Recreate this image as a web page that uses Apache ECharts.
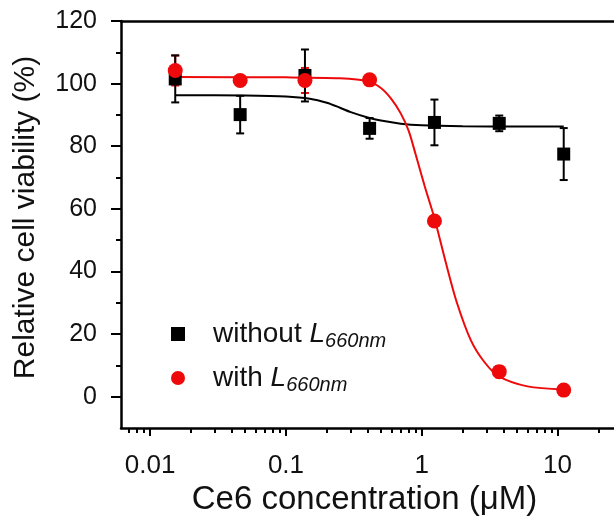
<!DOCTYPE html>
<html>
<head>
<meta charset="utf-8">
<script src="https://cdn.jsdelivr.net/npm/echarts@6/dist/echarts.min.js"></script>
<style>
  html, body { margin: 0; padding: 0; background: #fff; }
  #chartBox { width: 614px; height: 525px; }
</style>
</head>
<body>
<div id="chartBox"></div>
<script>
// concentrations (uM), threefold dilution
const conc = [0.0153, 0.046, 0.138, 0.413, 1.24, 3.72, 11.1];
// without laser
const withoutVals = [101.5, 90.1, 102.6, 85.7, 87.6, 87.3, 77.5];
const withoutErr = [7.5, 6.0, 8.3, 3.3, 7.3, 2.5, 8.3];
// with laser
const withVals = [104.2, 101.0, 101.0, 101.2, 56.1, 8.0, 2.1];
const withErr = [4.8, 0, 4.0, 0, 0, 1.8, 0];
// fitted curves
const withoutFitX = [0.0153, 0.05, 0.1, 0.15, 0.2, 0.25, 0.3, 0.4, 0.5, 0.7, 1, 2, 5, 11.1];
const withoutFitY = [96.3, 96.2, 95.9, 95.2, 93.9, 92.3, 90.9, 89.2, 88.2, 87.2, 86.7, 86.4, 86.3, 86.3];
const withFitX = [0.0153, 0.1, 0.25, 0.4, 0.5, 0.6, 0.7, 0.8, 0.9, 1.05, 1.24, 1.5, 1.8, 2.3, 2.9, 3.7, 6, 11.1];
const withFitY = [102.1, 102.0, 101.7, 100.8, 98.6, 95.0, 90.5, 85.0, 77.5, 67.3, 57.0, 43.0, 30.5, 18.0, 11.0, 6.5, 3.3, 2.3];
// tick labels
const xMajor = [0.01, 0.1, 1, 10];
const xMinor = [0.007, 0.008, 0.009, 0.02, 0.03, 0.04, 0.05, 0.06, 0.07, 0.08, 0.09,
  0.2, 0.3, 0.4, 0.5, 0.6, 0.7, 0.8, 0.9, 2, 3, 4, 5, 6, 7, 8, 9, 20, 30, 40];
const yMajor = [0, 20, 40, 60, 80, 100, 120];
const yMinor = [10, 30, 50, 70, 90, 110];

const RED = '#ee0a0a';
const FONT = '"Liberation Sans", Arial, sans-serif';

const zip = (xs, ys) => xs.map((x, i) => [x, ys[i]]);
const errData = (vals, errs) =>
  conc.map((x, i) => [x, vals[i] - errs[i], vals[i] + errs[i], errs[i]]);

function errorBars(color) {
  return function (params, api) {
    if (api.value(3) <= 0) return null;
    const x = api.value(0);
    const lo = api.coord([x, api.value(1)]);
    const hi = api.coord([x, api.value(2)]);
    const w = 4;
    const style = { stroke: color, lineWidth: 2 };
    return {
      type: 'group',
      children: [
        { type: 'line', shape: { x1: lo[0], y1: lo[1], x2: hi[0], y2: hi[1] }, style },
        { type: 'line', shape: { x1: lo[0] - w, y1: lo[1], x2: lo[0] + w, y2: lo[1] }, style },
        { type: 'line', shape: { x1: hi[0] - w, y1: hi[1], x2: hi[0] + w, y2: hi[1] }, style }
      ]
    };
  };
}

const chart = echarts.init(document.getElementById('chartBox'));
const xCommon = { type: 'log', logBase: 10, min: 0.0061, max: 43.3, splitLine: { show: false } };
const yCommon = { type: 'value', min: -10, max: 120, splitLine: { show: false } };

chart.setOption({
  animation: false,
  grid: { left: 121, right: -30, top: 21, bottom: 97, containLabel: false, outerBoundsMode: 'none' },
  legend: {
    orient: 'vertical',
    left: 171,
    top: 317,
    padding: 0,
    itemWidth: 14,
    itemHeight: 14,
    itemGap: 10,
    data: [
      { name: 'without L660nm', icon: 'rect' },
      { name: 'with L660nm', icon: 'circle' }
    ],
    formatter: function (name) {
      const head = name.indexOf('without') === 0 ? 'without ' : 'with ';
      return '{s|}{a|' + head + '}{i|L}{sub|660nm}';
    },
    textStyle: {
      rich: {
        s: { width: 23 },
        a: { fontSize: 28, fontFamily: FONT, color: '#111', lineHeight: 30 },
        i: { fontSize: 28, fontFamily: FONT, fontStyle: 'italic', color: '#111', lineHeight: 30 },
        sub: { fontSize: 20, fontFamily: FONT, fontStyle: 'italic', color: '#111', lineHeight: 30, padding: [14, 0, 0, 0] }
      }
    }
  },
  xAxis: [
    Object.assign({}, xCommon, {
      position: 'bottom',
      name: 'Ce6 concentration (\u03bcM)',
      nameLocation: 'middle',
      nameGap: 52,
      nameTextStyle: { fontSize: 33, fontFamily: FONT, color: '#111', padding: [0, 36, 0, 0] },
      axisLine: { onZero: false, lineStyle: { color: '#000', width: 2.5 } },
      axisTick: { inside: false, length: 8, lineStyle: { color: '#000', width: 2 }, customValues: xMajor },
      axisLabel: { margin: 25, fontSize: 26, fontFamily: FONT, color: '#111', customValues: xMajor,
        formatter: v => String(+v.toPrecision(3)) }
    }),
    Object.assign({}, xCommon, {
      position: 'bottom',
      axisLine: { show: false, onZero: false },
      axisTick: { inside: false, length: 5, lineStyle: { color: '#000', width: 2 }, customValues: xMinor },
      axisLabel: { show: false }
    }),
    Object.assign({}, xCommon, {
      position: 'top',
      axisLine: { onZero: false, lineStyle: { color: '#000', width: 2.5 } },
      axisTick: { show: false },
      axisLabel: { show: false }
    })
  ],
  yAxis: [
    Object.assign({}, yCommon, {
      position: 'left',
      name: 'Relative cell viability (%)',
      nameLocation: 'middle',
      nameGap: 80,
      nameTextStyle: { fontSize: 30, fontFamily: FONT, color: '#111', padding: [0, 0, 0, 14] },
      axisLine: { onZero: false, lineStyle: { color: '#000', width: 2.5 } },
      axisTick: { inside: false, length: 10, lineStyle: { color: '#000', width: 2 }, customValues: yMajor },
      axisLabel: { margin: 24, fontSize: 25, fontFamily: FONT, color: '#111', customValues: yMajor }
    }),
    Object.assign({}, yCommon, {
      position: 'left',
      axisLine: { show: false, onZero: false },
      axisTick: { inside: false, length: 5, lineStyle: { color: '#000', width: 2 }, customValues: yMinor },
      axisLabel: { show: false }
    })
  ],
  series: [
    {
      name: 'without fit', type: 'line', smooth: 0.3, symbol: 'none',
      lineStyle: { color: '#000', width: 2 }, data: zip(withoutFitX, withoutFitY), z: 2
    },
    {
      name: 'with fit', type: 'line', smooth: 0.3, symbol: 'none',
      lineStyle: { color: RED, width: 2 }, data: zip(withFitX, withFitY), z: 2
    },
    {
      name: 'with err', type: 'custom', renderItem: errorBars(RED),
      data: errData(withVals, withErr), z: 3
    },
    {
      name: 'without L660nm', type: 'scatter', symbol: 'rect', symbolSize: 13,
      itemStyle: { color: '#000', opacity: 1 }, data: zip(conc, withoutVals), z: 4
    },
    {
      name: 'without err', type: 'custom', renderItem: errorBars('#000'),
      data: errData(withoutVals, withoutErr), z: 5
    },
    {
      name: 'with L660nm', type: 'scatter', symbol: 'circle', symbolSize: 15,
      itemStyle: { color: RED, opacity: 1 }, data: zip(conc, withVals), z: 6
    }
  ]
});
</script>
</body>
</html>
